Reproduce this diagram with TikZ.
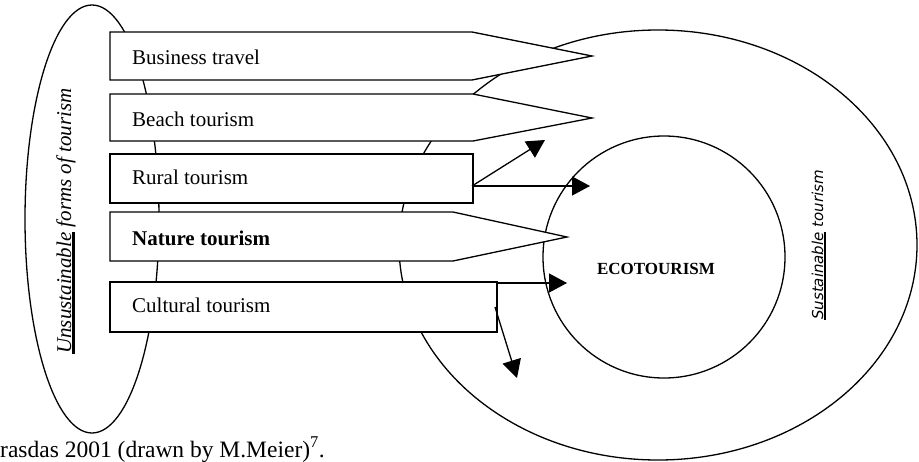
\documentclass[tikz,border=0pt]{standalone}
\usepackage{fontspec}
\setmainfont{Liberation Serif}
\newfontfamily\susfont{DejaVu Sans}
\usetikzlibrary{arrows.meta}
\newsavebox\ulbox
\newcommand\ThickUL[2]{\sbox\ulbox{#2}\rlap{\rule[-#1]{\wd\ulbox}{2.4pt}}\usebox\ulbox}
\begin{document}
\begin{tikzpicture}[x=1pt,y=-1pt,
  outline/.style={line width=1.3pt},
  box/.style={outline, fill=white, line join=miter},
  lbl/.style={anchor=base west, inner sep=0pt, font=\fontsize{21}{25}\selectfont},
  arr/.style={line width=1.3pt, -{Triangle[length=18pt,width=19pt]}}
]
\useasboundingbox (0,0) rectangle (919,461);
\fill[white] (0,0) rectangle (919,461);
% ellipses
\draw[outline] (92,219) ellipse [x radius=67, y radius=214];
\draw[outline] (658,245) ellipse [x radius=259, y radius=215];
\draw[outline] (664,257) circle [radius=121];
% boxes
\draw[box] (110,32) -- (472,32) -- (592,56) -- (472,80) -- (110,80) -- cycle;
\draw[box] (110,94) -- (473,94) -- (592,118) -- (473,141) -- (110,141) -- cycle;
\draw[box] (110,154) rectangle (473,203);
\draw[box] (110,212) -- (453,212) -- (567,237) -- (453,261) -- (110,261) -- cycle;
\draw[box] (110,282) rectangle (497,332);
% labels
\node[lbl] (bt) at (132,64) {Business travel};
\node[lbl] (bch) at (132,126) {Beach tourism};
\node[lbl] (rur) at (132,184) {Rural tourism};
\node[lbl, font=\fontsize{21}{25}\selectfont\bfseries] (nat) at (132,245) {Nature tourism};
\node[lbl] (cul) at (132,312) {Cultural tourism};
\node[font=\fontsize{17}{20}\selectfont\bfseries] (eco) at (656,269) {ECOTOURISM};
\node[rotate=90, anchor=base west, inner sep=0pt, font=\fontsize{21}{25}\selectfont\itshape] (uns) at (71,354) {\ThickUL{3.5pt}{Unsustainable} forms of tourism};
\node[rotate=90, anchor=base west, inner sep=0pt, font=\susfont\fontsize{15}{18}\selectfont\itshape] (sus) at (823,320) {\ThickUL{3pt}{Sustainable} tourism};
\node[anchor=base west, inner sep=0pt, font=\fontsize{23.5}{27}\selectfont] (cap) at (0,457) {rasdas 2001 (drawn by M.Meier)\textsuperscript{7}.};
% arrows
\coordinate (r0) at (472,186);
\coordinate (rA) at (545,140);
\coordinate (rB) at (590,186);
\coordinate (c0) at (497,283);
\coordinate (cA) at (567,283);
\coordinate (c1) at (495,307);
\coordinate (cB) at (517,378);
\draw[arr] (r0) -- (rA);
\draw[arr] (r0) -- (rB);
\draw[arr] (c0) -- (cA);
\draw[arr] (c1) -- (cB);
\end{tikzpicture}
\end{document}
